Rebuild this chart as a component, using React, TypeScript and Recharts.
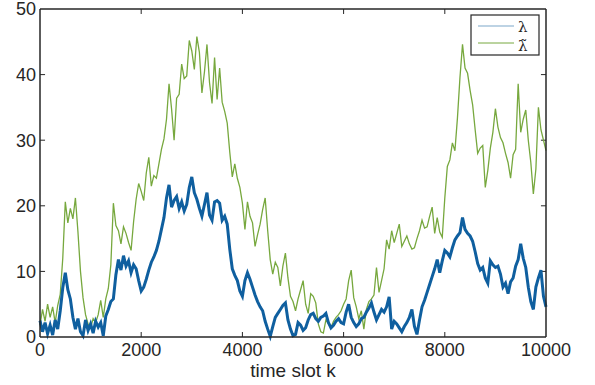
import { LineChart, Line, XAxis, YAxis, ReferenceLine } from 'recharts'

// time slot spacing of the sampled traces
const STEP = 50

const xTicks = [0, 2000, 4000, 6000, 8000, 10000]
const yTicks = [0, 10, 20, 30, 40, 50]

// λ (blue), read every 50 slots
const lambda = [
  2.5, 0.8, 2.2, 0.5, 1.8, 0.3, 2.6, 1.2, 4.0, 7.5,
  9.8, 7.2, 5.8, 3.0, 1.2, 2.8, 0.8, 0.2, 2.6, 1.0,
  2.0, 0.6, 2.4, 1.5, 2.2, 0.2, 3.2, 4.2, 5.4, 5.8,
  9.5, 11.8, 10.2, 12.4, 10.8, 11.6, 9.8, 11.0, 10.4, 8.6,
  7.0, 7.6, 8.8, 10.2, 11.4, 12.2, 13.2, 14.6, 16.4, 18.2,
  21.2, 23.2, 19.8, 20.8, 21.4, 19.6, 20.6, 19.2, 20.2, 22.8,
  24.4, 22.0, 21.0, 19.6, 18.4, 20.2, 22.0, 18.6, 17.8, 20.6,
  20.8, 20.4, 17.8, 18.4, 17.2, 13.4, 10.4, 9.4, 8.6, 7.0,
  6.2, 8.6, 9.8, 8.8, 7.6, 6.4, 5.4, 4.6, 4.0, 2.4,
  1.2, 0.1, 1.6, 3.0, 3.6, 4.2, 4.8, 5.2, 2.6, 1.2,
  0.2, 0.4, 2.2, 1.8, 1.0, 1.4, 2.6, 3.4, 3.6, 2.8,
  2.4, 3.0, 3.2, 3.6, 2.2, 1.4, 1.8, 2.4, 2.8, 2.2,
  2.0, 3.8, 5.0, 3.0, 2.2, 1.6, 2.0, 2.8, 3.0, 3.8,
  4.4, 5.2, 3.8, 2.6, 3.4, 4.2, 3.8, 4.6, 6.1, 1.2,
  2.4, 2.0, 1.4, 0.8, 1.6, 2.2, 3.0, 4.2, 1.6, 0.4,
  2.6, 4.6, 5.6, 6.8, 8.0, 9.2, 10.4, 11.8, 9.8, 11.6,
  13.2, 12.8, 12.2, 13.6, 14.8, 15.4, 15.9, 18.2, 16.4, 15.8,
  15.4, 14.6, 13.0, 11.2, 10.2, 10.6, 9.0, 8.2, 11.6, 11.0,
  10.6, 10.8, 9.6, 7.6, 8.2, 6.6, 8.4, 9.0, 10.8, 11.8,
  14.2, 12.0, 10.6, 7.6, 5.4, 4.2, 7.6, 9.0, 10.2, 6.2,
  4.6,
]

// λ̃ (green), read every 50 slots
const lambdaTilde = [
  1.8, 4.2, 2.4, 5.0, 3.0, 4.6, 2.2, 4.8, 6.5, 12.0,
  20.6, 17.4, 19.6, 18.0, 21.2, 16.0, 10.0, 6.0, 3.4, 2.0,
  1.4, 2.8, 2.2, 3.4, 5.6, 3.0, 5.8, 7.4, 11.0, 20.4,
  17.0, 16.2, 14.2, 16.8, 15.8, 14.4, 13.2, 17.6, 21.0, 23.4,
  22.2, 20.8, 25.0, 27.4, 23.0, 24.6, 24.2, 26.4, 28.6, 30.2,
  33.2, 38.6, 34.8, 30.0, 36.4, 37.0, 41.6, 39.4, 39.8, 45.2,
  43.6, 40.8, 45.8, 43.4, 37.2, 40.4, 44.6, 38.8, 35.6, 42.6,
  36.2, 41.0, 35.8, 34.4, 32.6, 28.2, 24.4, 26.4, 24.2, 22.8,
  20.4, 16.4, 20.6, 18.4, 17.4, 13.8, 15.6, 17.2, 19.4, 21.2,
  16.2, 11.8, 9.6, 11.4, 10.6, 7.8, 10.8, 12.8, 9.0, 6.2,
  5.4, 4.0, 5.8, 7.2, 8.6, 5.0, 3.6, 6.6, 6.2, 5.2,
  2.0, 0.8, 0.6, 2.6, 2.0, 1.4, 2.4, 3.0, 3.4, 4.0,
  5.0, 5.8, 8.6, 10.2, 6.0, 4.6, 2.8, 4.0, 1.2, 4.2,
  5.4, 5.8, 6.4, 10.6, 6.8, 8.6, 10.4, 14.8, 13.4, 16.2,
  14.4, 15.8, 17.2, 13.8, 14.6, 15.4, 14.2, 13.4, 13.6, 15.0,
  16.2, 17.8, 16.6, 16.8, 18.4, 19.8, 15.8, 18.2, 16.0, 15.2,
  21.2, 26.0, 27.0, 29.6, 28.4, 33.4, 39.6, 44.6, 41.0, 40.2,
  37.6, 35.4, 31.6, 28.0, 28.8, 29.2, 22.8, 25.4, 28.8, 31.2,
  34.8, 32.0, 30.4, 29.6, 28.0, 26.6, 24.2, 27.8, 28.6, 38.6,
  31.2, 33.2, 34.6, 30.0, 26.6, 21.8, 25.6, 35.0, 31.6, 30.0,
  28.4,
]

const BLUE = '#0f5f9f'
const GREEN = '#77a83e'
const INK = '#262626'

// inward tick length, in data units (about 5px each way)
const X_TICK_LEN = 100
const Y_TICK_LEN = 0.76

const rows = lambda.map((v, i) => ({ k: i * STEP, l: v, lt: lambdaTilde[i] }))

const tickFont = { fontFamily: 'Liberation Sans, Arial, sans-serif', fontSize: 18, fill: INK }

function LegendBox() {
  return (
    <svg width={70} height={42} style={{ position: 'absolute', left: 470, top: 14 }}>
      <rect x={1} y={1} width={68} height={40} fill="#fff" stroke={INK} strokeWidth={1.2} />
      <line x1={8} x2={44} y1={12} y2={12} stroke={BLUE} strokeOpacity={0.55} strokeWidth={1.2} />
      <line x1={8} x2={44} y1={29} y2={29} stroke={GREEN} strokeWidth={1} />
      <text x={48} y={18} fontFamily="DejaVu Serif, serif" fontSize={15} fill={INK}>λ</text>
      <text x={48} y={37} fontFamily="DejaVu Serif, serif" fontSize={15} fill={INK}>λ̃</text>
    </svg>
  )
}

export default function App() {
  return (
    <div style={{ position: 'absolute', left: 0, top: 0, width: 595, height: 385, background: '#fff' }}>
      <LineChart width={595} height={385} data={rows}
        margin={{ top: 9, right: 49, bottom: 8, left: 10 }}>
        {/* box lines */}
        <XAxis xAxisId="t" orientation="top" mirror dataKey="k" type="number" domain={[0, 10000]}
          ticks={xTicks} height={1} tick={false} tickLine={false} stroke={INK} strokeWidth={1.5} />
        <YAxis yAxisId="r" orientation="right" mirror domain={[0, 50]} ticks={yTicks}
          width={1} tick={false} tickLine={false} stroke={INK} strokeWidth={1.5} />
        {/* labelled axes */}
        <XAxis xAxisId="b" dataKey="k" type="number" domain={[0, 10000]} ticks={xTicks}
          height={40} tickLine={false} tickSize={0} tickMargin={6} tick={tickFont}
          stroke={INK} strokeWidth={1.5} interval={0}
          label={{ value: 'time slot k', position: 'insideBottom', offset: 0,
            style: { fontFamily: 'Liberation Sans, Arial, sans-serif', fontSize: 19, fill: INK } }} />
        <YAxis yAxisId="l" domain={[0, 50]} ticks={yTicks} width={30} tickLine={false}
          tickSize={0} tickMargin={4} tick={tickFont} stroke={INK} strokeWidth={1.5} interval={0} />
        {/* inward tick marks on all four sides */}
        {xTicks.slice(1, -1).map((t) => (
          <ReferenceLine key={'xb' + t} xAxisId="b" yAxisId="l" stroke={INK} strokeWidth={1}
            segment={[{ x: t, y: 0 }, { x: t, y: Y_TICK_LEN }]} />
        ))}
        {xTicks.slice(1, -1).map((t) => (
          <ReferenceLine key={'xt' + t} xAxisId="b" yAxisId="l" stroke={INK} strokeWidth={1}
            segment={[{ x: t, y: 50 }, { x: t, y: 50 - Y_TICK_LEN }]} />
        ))}
        {yTicks.slice(1, -1).map((t) => (
          <ReferenceLine key={'yl' + t} xAxisId="b" yAxisId="l" stroke={INK} strokeWidth={1}
            segment={[{ x: 0, y: t }, { x: X_TICK_LEN, y: t }]} />
        ))}
        {yTicks.slice(1, -1).map((t) => (
          <ReferenceLine key={'yr' + t} xAxisId="b" yAxisId="l" stroke={INK} strokeWidth={1}
            segment={[{ x: 10000, y: t }, { x: 10000 - X_TICK_LEN, y: t }]} />
        ))}
        <Line xAxisId="b" yAxisId="l" type="linear" dataKey="lt" stroke={GREEN} strokeWidth={1.3}
          dot={false} isAnimationActive={false} />
        <Line xAxisId="b" yAxisId="l" type="linear" dataKey="l" stroke={BLUE} strokeWidth={3}
          dot={false} isAnimationActive={false} />
      </LineChart>
      <LegendBox />
    </div>
  )
}
